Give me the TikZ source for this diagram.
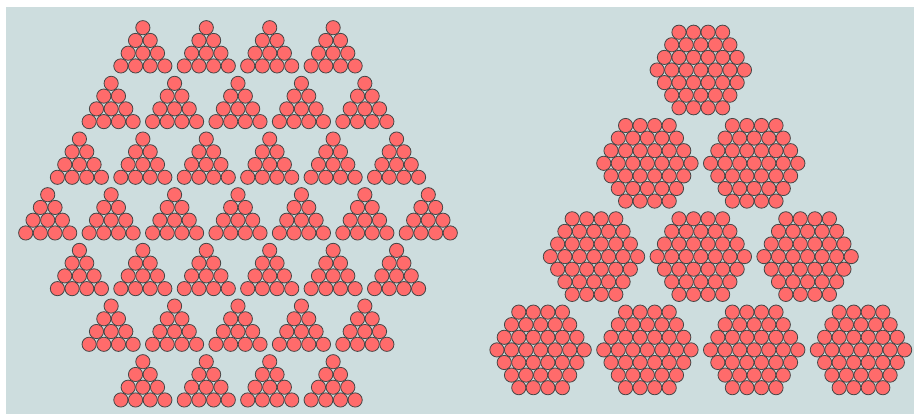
\documentclass[tikz,border=0pt]{standalone}
\definecolor{bgcol}{RGB}{205,221,222}
\definecolor{ballfill}{RGB}{255,107,107}
\definecolor{ballline}{RGB}{70,70,70}
\tikzset{ball/.style={fill=ballfill,draw=ballline,line width=0.8pt}}
\begin{document}
\begin{tikzpicture}[x=1pt,y=-1pt]
\useasboundingbox (0,0) rectangle (914,414);
\fill[white] (0,0) rectangle (914,414);
\fill[bgcol] (6,7) rectangle (914,414);
% left: hexagon of triangles
\foreach \j/\n in {0/4,1/5,2/6,3/7,4/6,5/5,6/4} {
  \foreach \k in {1,...,\n} {
    \pgfmathsetmacro\tx{238+(\k-1-(\n-1)/2)*63.43}
    \pgfmathsetmacro\ty{27.7+55.67*\j}
    \foreach \r in {0,...,3} {
      \foreach \c in {0,...,\r} {
        \pgfmathsetmacro\px{\tx+(\c-\r/2)*14.67}
        \pgfmathsetmacro\py{\ty+\r*12.75}
        \draw[ball] (\px,\py) circle[radius=7.1pt];
      }
    }
  }
}
% right: triangle of hexagons
\foreach \R in {0,...,3} {
  \foreach \h in {0,...,\R} {
    \pgfmathsetmacro\cx{700.8+(\h-\R/2)*106.8}
    \pgfmathsetmacro\cy{70+93.3*\R}
    \foreach \q/\m in {-3/4,-2/5,-1/6,0/7,1/6,2/5,3/4} {
      \foreach \c in {1,...,\m} {
        \pgfmathsetmacro\px{\cx+(\c-1-(\m-1)/2)*14.55}
        \pgfmathsetmacro\py{\cy+\q*12.6}
        \draw[ball] (\px,\py) circle[radius=7.1pt];
      }
    }
  }
}
\end{tikzpicture}
\end{document}
